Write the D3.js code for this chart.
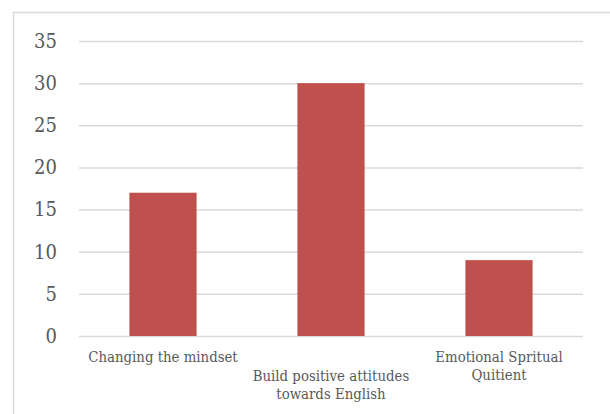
<!DOCTYPE html>
<html>
<head>
<meta charset="utf-8">
<script src="https://cdn.jsdelivr.net/npm/d3@7"></script>
<style>
  html, body { margin: 0; padding: 0; background: #fff; }
  svg { display: block; }
</style>
</head>
<body>
<svg id="chart" width="610" height="414"></svg>
<script>
// Chart data
const categories = [
  "Changing the mindset",
  "Build positive attitudes towards English",
  "Emotional Spritual Quitient"
];
// Wrapped label lines and the label row each category sits on
const labelLines = [
  ["Changing the mindset"],
  ["Build positive attitudes", "towards English"],
  ["Emotional Spritual", "Quitient"]
];
const labelRows = [0, 1, 0];
const values = [17, 30, 9];
const yTicks = [0, 5, 10, 15, 20, 25, 30, 35];

const W = 610, H = 414;
const margin = { left: 79, right: 27, top: 41, bottom: 78 };
const svg = d3.select("#chart");
const font = "'DejaVu Serif Condensed', 'DejaVu Serif', serif";

// Chart area frame (open to the right and bottom)
svg.append("path")
  .attr("d", `M13.5,${H} V12.5 H${W}`)
  .attr("fill", "none")
  .attr("stroke", "#d9d9d9")
  .attr("stroke-width", 1.5);

const x = d3.scaleBand()
  .domain(categories)
  .range([margin.left, W - margin.right])
  .paddingInner(0.6)
  .paddingOuter(0.3);

const y = d3.scaleLinear()
  .domain([0, 35])
  .range([H - margin.bottom, margin.top]);

// Gridlines and value labels
const yAxis = d3.axisLeft(y)
  .tickValues(yTicks)
  .tickSize(-(W - margin.right - margin.left))
  .tickPadding(22)
  .tickFormat(d3.format("d"));

const gy = svg.append("g")
  .attr("transform", `translate(${margin.left},0)`)
  .call(yAxis);
gy.select(".domain").remove();
gy.selectAll(".tick line")
  .attr("stroke", "#d9d9d9")
  .attr("stroke-width", 1.5);
gy.selectAll(".tick text")
  .attr("fill", "#595959")
  .style("font-family", font)
  .style("font-size", "20px");

// Bars
svg.append("g")
  .selectAll("rect")
  .data(values)
  .join("rect")
  .attr("x", (d, i) => x(categories[i]))
  .attr("width", x.bandwidth())
  .attr("y", d => y(d))
  .attr("height", d => y(0) - y(d))
  .attr("fill", "#c0504d");

// Category labels, staggered in rows
const baseY = y(0) + 26;
const rowGap = 19;
const lineGap = 17.5;
const labels = svg.append("g")
  .attr("fill", "#595959")
  .style("font-family", font)
  .style("font-size", "14.8px")
  .attr("text-anchor", "middle");

categories.forEach((c, i) => {
  const cx = x(c) + x.bandwidth() / 2;
  const t = labels.append("text")
    .attr("x", cx)
    .attr("y", baseY + labelRows[i] * rowGap);
  labelLines[i].forEach((line, j) => {
    t.append("tspan")
      .attr("x", cx)
      .attr("dy", j === 0 ? 0 : lineGap)
      .text(line);
  });
});
</script>
</body>
</html>
